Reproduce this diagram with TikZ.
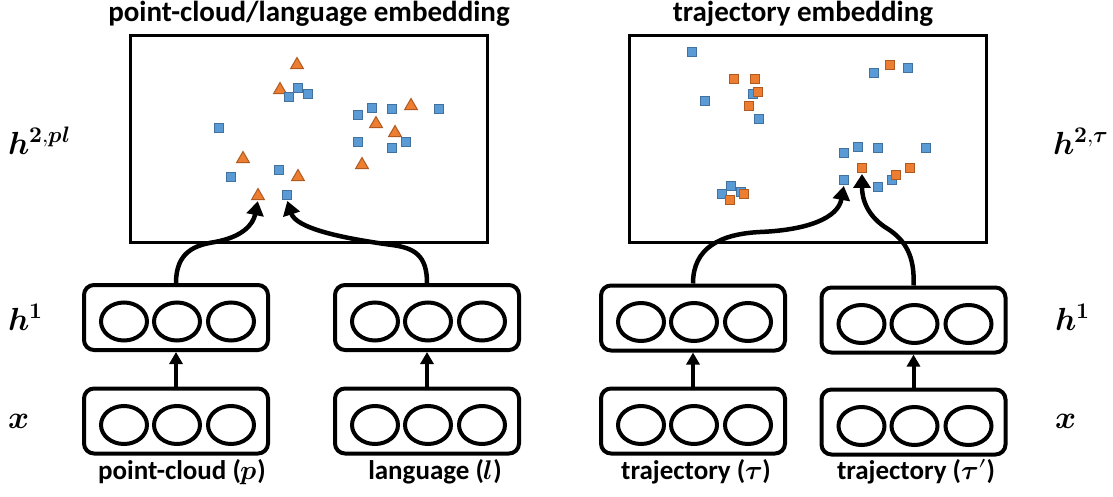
\documentclass[tikz,border=0pt]{standalone}
\usepackage{fontspec}
\usepackage{unicode-math}
\setmainfont{Carlito}
\setmathfont{Latin Modern Math}
\usetikzlibrary{arrows.meta,shapes.geometric}

\definecolor{ptblue}{HTML}{5B9BD5}
\definecolor{ptblueedge}{HTML}{41719C}
\definecolor{ptorange}{HTML}{ED7D31}
\definecolor{ptorangeedge}{HTML}{AE5A21}

\tikzset{
  layerbox/.style={draw, line width=4pt, rounded corners=10pt, minimum width=184pt,
    minimum height=65pt, inner sep=0pt},
  unit/.style={draw, line width=4pt, ellipse, minimum width=46pt, minimum height=38pt, inner sep=0pt},
  embbox/.style={draw, line width=3pt, minimum width=357pt, minimum height=206pt, inner sep=0pt},
  link/.style={line width=4pt, -{Triangle[length=12pt,width=13pt]}},
  bend link/.style={line width=4.5pt, -{Triangle[length=14pt,width=17pt]}, shorten >=1pt},
  sq/.style={rectangle, draw=ptblueedge, fill=ptblue, line width=1pt, minimum size=9pt, inner sep=0pt},
  osq/.style={rectangle, draw=ptorangeedge, fill=ptorange, line width=1pt, minimum size=9pt, inner sep=0pt},
  tri/.style={regular polygon, regular polygon sides=3, draw=ptorangeedge, fill=ptorange,
    line width=1pt, minimum size=15pt, inner sep=0pt},
  title/.style={font=\fontsize{29}{33}\selectfont\bfseries, anchor=base, inner sep=0pt},
  inlabel/.style={font=\fontsize{27}{30}\selectfont\bfseries, anchor=base, inner sep=0pt},
  laylabel/.style={font=\fontsize{32}{36}\selectfont, inner sep=0pt},
}

% a layer: rounded box holding three units
\newcommand{\nnlayer}[3]{%
  \node[layerbox] (#1) at (#2,#3) {};
  \node[unit] (#1-a) at ([xshift=-52pt,yshift=-4pt]#1.center) {};
  \node[unit] (#1-b) at ([xshift=1pt,yshift=-4pt]#1.center) {};
  \node[unit] (#1-c) at ([xshift=55pt,yshift=-4pt]#1.center) {};
}

\begin{document}
\begin{tikzpicture}[x=1pt,y=-1pt]
\useasboundingbox (0,0) rectangle (1113,497);

% titles
\node[title] (tl) at (309,22) {point-cloud/language embedding};
\node[title] (tr) at (803,22) {trajectory embedding};

% embedding spaces
\node[embbox] (embL) at (308.5,139) {};
\node[embbox] (embR) at (808,139) {};

% point-cloud / language embedding points
\foreach \x/\y [count=\i] in {297/65,280/90,411/106,376/124,395/133,362/165,243/159,298/177,258/196}
  \node[tri] (lt\i) at (\x,\y) {};
\foreach \x/\y [count=\i] in {298/88,289/97,308/94,358/115,372/108,392/109,439/109,358/142,406/142,
    392/148,219/128,231/177,279/170,287/195}
  \node[sq] (ls\i) at (\x,\y) {};

% trajectory embedding points
\foreach \x/\y [count=\i] in {692/52,705/101,753/94,759/119,874/73,908/68,844/153,858/147,878/148,
    926/148,844/180,878/187,892/180,731/186,722/194,741/192}
  \node[sq] (rs\i) at (\x,\y) {};
\foreach \x/\y [count=\i] in {734/79,755/79,758/92,749/106,890/65,862/168,910/168,896/175,744/194,730/200}
  \node[osq] (ro\i) at (\x,\y) {};

% encoder layers
\nnlayer{pcH}{176}{317.5}
\nnlayer{pcX}{176}{421}
\nnlayer{laH}{427}{317.5}
\nnlayer{laX}{427}{421}
\nnlayer{trH}{693}{318}
\nnlayer{trX}{693}{421}
\nnlayer{tpH}{913.5}{320}
\nnlayer{tpX}{913.5}{422}

\draw[link] (pcX) -- (pcH);
\draw[link] (laX) -- (laH);
\draw[link] (trX) -- (trH);
\draw[link] (tpX) -- (tpH);

% projections into the embedding spaces
\draw[bend link] (pcH.north) .. controls (176,252) and (195,245) .. (215,242)
  .. controls (242,237) and (253,225) .. (lt9.south);
\draw[bend link] (laH.north) .. controls (427,256) and (415,248) .. (392,245)
  .. controls (340,238) and (296,228) .. (ls14.south);
\draw[bend link] (trH.north) .. controls (693,248) and (720,234) .. (760,232)
  .. controls (808,230) and (838,218) .. (rs11.south);
\draw[bend link] (tpH.north) .. controls (915,256) and (905,240) .. (888,229)
  .. controls (868,217) and (862,200) .. (ro6.south);

% input labels
\node[inlabel] (lpc) at (182,479) {point-cloud ($\symbfit{p}$)};
\node[inlabel] (lla) at (435,479) {language ($\symbfit{l}$)};
\node[inlabel] (ltr) at (696,479) {trajectory ($\symbfit{\tau}$)};
\node[inlabel] (ltp) at (916,479) {trajectory ($\symbfit{\tau}\prime$)};

% layer labels
\node[laylabel, anchor=west] (h2l) at (8,141) {$\symbfit{h}^{\symbf{2},\symbfit{pl}}$};
\node[laylabel, anchor=west] (h1l) at (8,317) {$\symbfit{h}^{\symbf{1}}$};
\node[laylabel, anchor=west] (xl) at (8,421) {$\symbfit{x}$};
\node[laylabel, anchor=west] (h2r) at (1053,141) {$\symbfit{h}^{\symbf{2},\symbfit{\tau}}$};
\node[laylabel, anchor=west] (h1r) at (1055,317) {$\symbfit{h}^{\symbf{1}}$};
\node[laylabel, anchor=west] (xr) at (1055,421) {$\symbfit{x}$};
\end{tikzpicture}
\end{document}
